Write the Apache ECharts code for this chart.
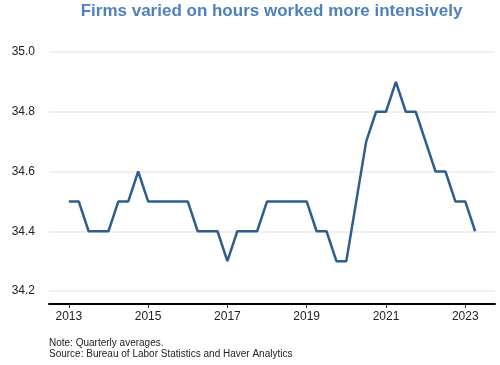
<!DOCTYPE html>
<html>
<head>
<meta charset="utf-8">
<script src="https://cdn.jsdelivr.net/npm/echarts@6/dist/echarts.min.js"></script>
<style>
html,body{margin:0;padding:0;background:#fff;}
#chart{width:500px;height:365px;}
</style>
</head>
<body>
<div id="chart"></div>
<script>
var quarters = [
  "2013Q1","2013Q2","2013Q3","2013Q4",
  "2014Q1","2014Q2","2014Q3","2014Q4",
  "2015Q1","2015Q2","2015Q3","2015Q4",
  "2016Q1","2016Q2","2016Q3","2016Q4",
  "2017Q1","2017Q2","2017Q3","2017Q4",
  "2018Q1","2018Q2","2018Q3","2018Q4",
  "2019Q1","2019Q2","2019Q3","2019Q4",
  "2020Q1","2020Q2","2020Q3","2020Q4",
  "2021Q1","2021Q2","2021Q3","2021Q4",
  "2022Q1","2022Q2","2022Q3","2022Q4",
  "2023Q1","2023Q2"
];
var hours = [
  34.5,34.5,34.4,34.4,
  34.4,34.5,34.5,34.6,
  34.5,34.5,34.5,34.5,
  34.5,34.4,34.4,34.4,
  34.3,34.4,34.4,34.4,
  34.5,34.5,34.5,34.5,
  34.5,34.4,34.4,34.3,
  34.3,34.5,34.7,34.8,
  34.8,34.9,34.8,34.8,
  34.7,34.6,34.6,34.5,
  34.5,34.4
];
var yearTicks = [2013,2015,2017,2019,2021,2023];

var seriesData = quarters.map(function(q,i){
  var y = parseInt(q.slice(0,4),10);
  var k = parseInt(q.slice(5),10);
  return [y + (k-1)/4, hours[i]];
});

var FONT = 'Liberation Sans, Arial, sans-serif';
var chart = echarts.init(document.getElementById('chart'), null, {renderer:'canvas'});
chart.setOption({
  animation:false,
  backgroundColor:'#fff',
  textStyle:{fontFamily:FONT},
  graphic:[
    {type:'text', x:271.5, y:11, style:{text:'Firms varied on hours worked more intensively', fontSize:17, fontWeight:'bold', fill:'#4f81bd', fontFamily:FONT, align:'center', verticalAlign:'middle'}},
    {type:'text', x:49, y:343, style:{text:'Note: Quarterly averages.', fontSize:10, fill:'#222', fontFamily:FONT, align:'left', verticalAlign:'middle'}},
    {type:'text', x:49, y:354, style:{text:'Source: Bureau of Labor Statistics and Haver Analytics', fontSize:10, fill:'#222', fontFamily:FONT, align:'left', verticalAlign:'middle'}}
  ],
  grid:{left:49, right:5, top:52, bottom:74, containLabel:false},
  xAxis:{
    type:'value', min:2012.5, max:2023.75,
    offset:13,
    axisLine:{show:true, onZero:false, lineStyle:{color:'#000', width:2}},
    axisTick:{show:true, length:4, customValues:yearTicks, lineStyle:{color:'#333', width:1}},
    axisLabel:{customValues:yearTicks, fontSize:12, color:'#222', margin:7, formatter:function(v){return String(v);}},
    splitLine:{show:false}
  },
  yAxis:{
    type:'value', min:34.2, max:35.0, interval:0.2,
    axisLine:{show:false}, axisTick:{show:false},
    axisLabel:{fontSize:12, color:'#222', margin:14, formatter:function(v){return v.toFixed(1);}},
    splitLine:{show:true, lineStyle:{color:'#ebebeb', width:1.5}}
  },
  series:[{
    type:'line', data:seriesData, showSymbol:false,
    lineStyle:{color:'#2e5e8e', width:2.5},
    itemStyle:{color:'#2e5e8e'}
  }]
});
</script>
</body>
</html>
